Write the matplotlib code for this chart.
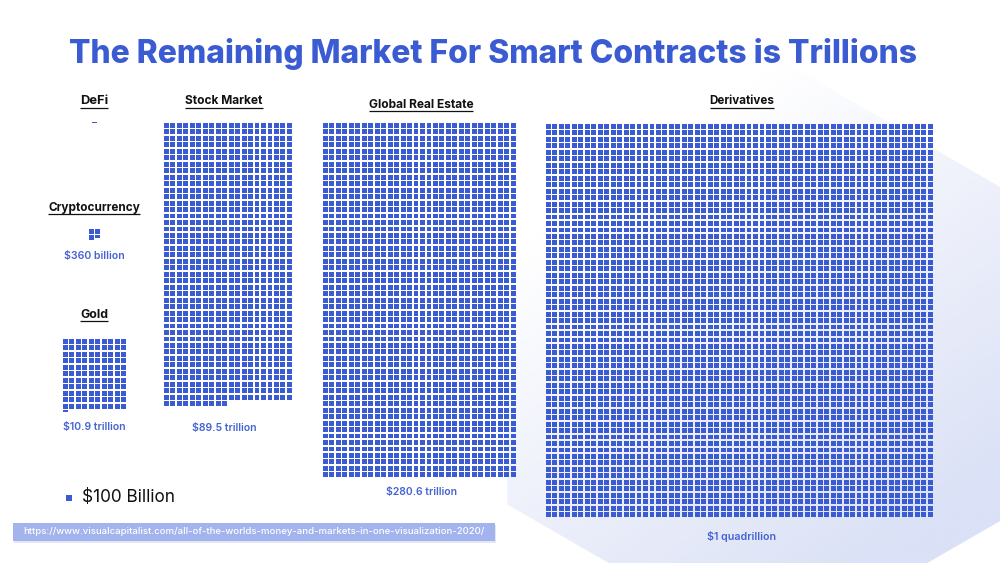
import numpy as np
import matplotlib
matplotlib.use("Agg")
import matplotlib.pyplot as plt
from matplotlib.collections import PolyCollection
from matplotlib.patches import Polygon, Rectangle

# ---------------- data ----------------
categories = ["DeFi", "Cryptocurrency", "Gold", "Stock Market", "Global Real Estate", "Derivatives"]
value_labels = ["", "$360 billion", "$10.9 trillion", "$89.5 trillion", "$280.6 trillion", "$1 quadrillion"]
# number of $100B squares as drawn in the graphic (fractions drawn as partial squares)
cells_drawn = [0.3, 3.5, 110.4, 870, 1650, 3660]
title = "The Remaining Market For Smart Contracts is Trillions"
legend_label = "$100 Billion"
source_url = "https://www.visualcapitalist.com/all-of-the-worlds-money-and-markets-in-one-visualization-2020/"

# ---------------- layout (pixel coordinates) ----------------
grid_cols = [1, 2, 10, 20, 30, 60]
grid_origin = [(92, 122), (89, 229), (63, 339), (164, 123), (323, 123), (546, 124)]
header_pos = [(94, 101.5), (94, 208), (94, 315), (224, 101.5), (421, 104.5), (742, 101.5)]
header_w = [28, 92, 28, 78, 105, 65]
value_pos = [None, (94, 256.5), (94, 427), (224, 427.5), (421, 492), (742, 536)]
value_w = [0, 60, 62, 64, 70, 68]

PITCH = 6.47
SQ = 4.9
BLUE = "#3b5bd2"
TXT_BLUE = "#4563d3"

W, H = 1000, 563
fig = plt.figure(figsize=(W / 100, H / 100), dpi=100)
ax = fig.add_axes([0, 0, 1, 1])
ax.set_xlim(0, W)
ax.set_ylim(H, 0)
ax.axis("off")
fig.patch.set_facecolor("white")

# background hexagon with gradient
cx, cy, R = 768, 354, 301
hw = R * np.cos(np.pi / 6)
hex_pts = [(cx, cy - R), (cx + hw, cy - R / 2), (cx + hw, cy + R / 2),
           (cx, cy + R), (cx - hw, cy + R / 2), (cx - hw, cy - R / 2)]
hexpatch = Polygon(hex_pts, closed=True, facecolor="none", edgecolor="none")
ax.add_patch(hexpatch)
gx, gy = np.meshgrid(np.linspace(0, W, 400), np.linspace(0, H, 240))
t = np.clip(0.55 * (gx - 560) / 440 + 0.6 * (gy - 220) / 340, 0, 1)
c0 = np.array([1.0, 1.0, 1.0])
c1 = np.array([0xdb, 0xe1, 0xf6]) / 255
img = c0[None, None, :] * (1 - t[..., None]) + c1[None, None, :] * t[..., None]
im = ax.imshow(img, extent=[0, W, H, 0], zorder=0, interpolation="bilinear", aspect="auto")
im.set_clip_path(hexpatch)

# waffle grids
polys = []
for n, ncol, (x0, y0) in zip(cells_drawn, grid_cols, grid_origin):
    full = int(np.floor(n))
    frac = n - full
    for i in range(full):
        r, c = divmod(i, ncol)
        x = x0 + c * PITCH
        y = y0 + r * PITCH
        polys.append([(x, y), (x + SQ, y), (x + SQ, y + SQ), (x, y + SQ)])
    if frac > 1e-6:
        r, c = divmod(full, ncol)
        x = x0 + c * PITCH
        y = y0 + r * PITCH
        h = SQ * frac
        polys.append([(x, y), (x + SQ, y), (x + SQ, y + h), (x, y + h)])
pc = PolyCollection(polys, facecolors=BLUE, edgecolors="none", linewidths=0, zorder=3)
ax.add_collection(pc)

fig.canvas.draw()
renderer = fig.canvas.get_renderer()


def fit(txt, target_w):
    bb = txt.get_window_extent(renderer)
    if bb.width > 0:
        txt.set_fontsize(txt.get_fontsize() * target_w / bb.width)
    return txt


FONT = "Inter"

# title
tt = ax.text(493, 54, title, ha="center", va="center", fontsize=22, fontweight="heavy",
             color=BLUE, family=FONT, zorder=5)
fit(tt, 850)

# headers with underline
for name, (x, y), wt in zip(categories, header_pos, header_w):
    h = ax.text(x, y, name, ha="center", va="center", fontsize=8.5, fontweight="bold",
                color="#111111", family=FONT, zorder=5)
    fit(h, wt)
    bb = h.get_window_extent(renderer)
    ax.plot([x - bb.width / 2, x + bb.width / 2], [y + 6, y + 6], color="#111111",
            lw=0.9, zorder=5, solid_capstyle="butt")

# value labels
for lab, pos, wt in zip(value_labels, value_pos, value_w):
    if pos is None:
        continue
    v = ax.text(pos[0], pos[1], lab, ha="center", va="center", fontsize=8, fontweight="semibold",
                color=TXT_BLUE, family=FONT, zorder=5)
    fit(v, wt)

# legend
ax.add_patch(Rectangle((65.5, 495), 6, 6, facecolor=BLUE, edgecolor="none", zorder=5))
lg = ax.text(82, 498, legend_label, ha="left", va="center", fontsize=13, color="#111111",
             family=FONT, zorder=5)
fit(lg, 93)

# source box
ax.add_patch(Rectangle((14, 524.5), 482, 18, facecolor="#c9d0ea", edgecolor="none", alpha=0.5, zorder=4))
ax.add_patch(Rectangle((12.5, 522.5), 482, 18, facecolor="#a3b3ed", edgecolor="none", zorder=5))
st = ax.text(253.5, 532, source_url, ha="center", va="center", fontsize=8, color="white",
             fontweight="medium", family=FONT, zorder=6)
fit(st, 457)

fig.savefig("out.png", dpi=100, facecolor="white")
